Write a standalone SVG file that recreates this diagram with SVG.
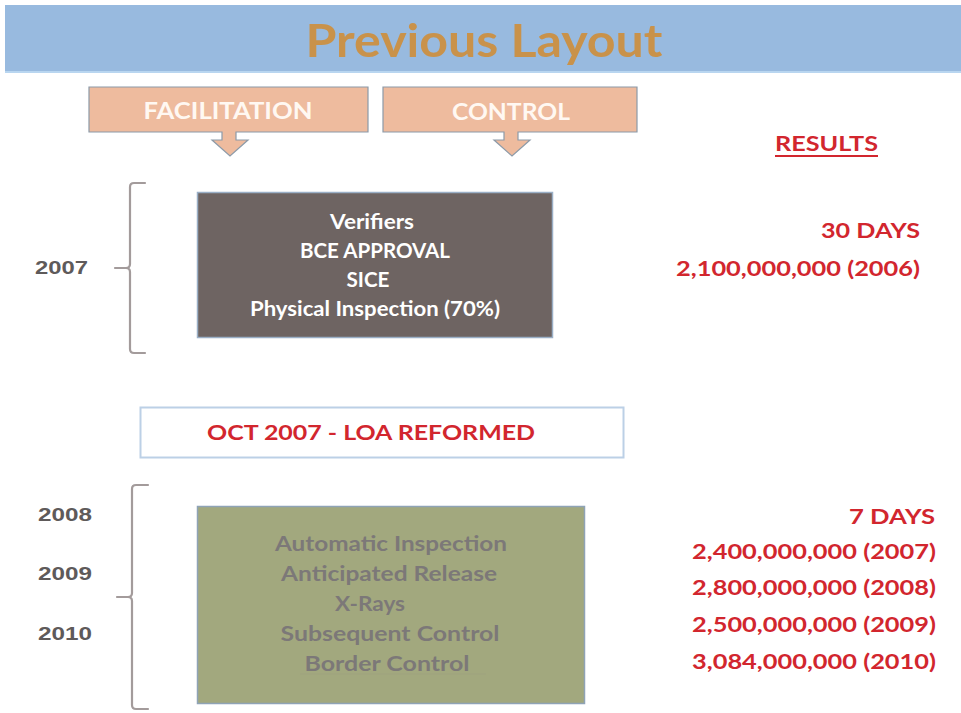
<svg xmlns="http://www.w3.org/2000/svg" width="961" height="713" viewBox="0 0 961 713">
  <style>
    text { font-family: Lato, "Open Sans", "Liberation Sans", sans-serif; font-weight: bold; }
    .title { font-size: 46px; fill: #C9924A; }
    .tab { fill: #EEBB9E; stroke: #8C9AA8; stroke-width: 1.2; }
    .tabtxt { font-size: 22px; fill: #FFF8F2; text-anchor: middle; }
    .brace { fill: none; stroke: #A39B9B; stroke-width: 2.2; stroke-linecap: round; stroke-linejoin: round; }
    .year { font-family: "Liberation Sans", Arial, sans-serif; font-size: 19px; fill: #5E5A5A; }
    .red { fill: #D2262E; font-size: 21px; }
    .end { text-anchor: end; }
    .mid { text-anchor: middle; }
    .wt { fill: #FFFFFF; font-size: 20px; text-anchor: middle; }
    .gt { fill: #7C7878; font-size: 21px; text-anchor: middle; }
  </style>

  <!-- header band -->
  <g id="header">
    <rect x="5" y="5" width="956" height="67" fill="#98BADF"/>
    <rect x="5" y="71" width="956" height="2" fill="#B9D6F0"/>
    <text class="title mid" x="484" y="57" textLength="357" lengthAdjust="spacingAndGlyphs">Previous Layout</text>
  </g>

  <!-- callout tabs -->
  <g id="facilitation">
    <path class="tab" d="M89,87 H368 V132 H236 V140 H248 L230,156 L212,140 H222 V132 H89 Z"/>
    <text class="tabtxt" x="228" y="119" textLength="169" lengthAdjust="spacingAndGlyphs">FACILITATION</text>
  </g>
  <g id="control">
    <path class="tab" d="M383,87 H637 V132 H518 V140 H530 L512,156 L494,140 H504 V132 H383 Z"/>
    <text class="tabtxt" x="511" y="120" textLength="118" lengthAdjust="spacingAndGlyphs">CONTROL</text>
  </g>

  <!-- braces -->
  <g id="connectors">
    <path class="brace" d="M145,183 H134 Q130,183 130,187 V264 Q130,268 126,268 H115 M126,268 Q130,268 130,272 V349 Q130,353 134,353 H145"/>
    <path class="brace" d="M148,485 H136 Q132,485 132,489 V593 Q132,597 128,597 H117 M128,597 Q132,597 132,601 V705 Q132,709 136,709 H148"/>
  </g>

  <!-- years -->
  <g id="years">
    <text class="year" x="35" y="274" textLength="53" lengthAdjust="spacingAndGlyphs">2007</text>
    <text class="year" x="38" y="521" textLength="54" lengthAdjust="spacingAndGlyphs">2008</text>
    <text class="year" x="38" y="580" textLength="54" lengthAdjust="spacingAndGlyphs">2009</text>
    <text class="year" x="38" y="640" textLength="54" lengthAdjust="spacingAndGlyphs">2010</text>
  </g>

  <!-- 2007 measures -->
  <g id="old-measures">
    <rect x="197.5" y="192.5" width="355" height="145" fill="#6E6462" stroke="#9AAFC6" stroke-width="1.5"/>
    <text class="wt" x="372" y="229" textLength="84" lengthAdjust="spacingAndGlyphs">Verifiers</text>
    <text class="wt" x="375" y="258" textLength="150" lengthAdjust="spacingAndGlyphs">BCE APPROVAL</text>
    <text class="wt" x="368" y="287" textLength="43" lengthAdjust="spacingAndGlyphs">SICE</text>
    <text class="wt" x="375" y="316" textLength="250" lengthAdjust="spacingAndGlyphs">Physical Inspection (70%)</text>
  </g>

  <!-- reform banner -->
  <g id="reform">
    <rect x="140.5" y="407.5" width="483" height="50" fill="#FFFFFF" stroke="#BCD0E6" stroke-width="2"/>
    <text class="red" x="371" y="440" text-anchor="middle" textLength="328" lengthAdjust="spacingAndGlyphs">OCT 2007 - LOA REFORMED</text>
  </g>

  <!-- 2008-2010 measures -->
  <g id="new-measures">
    <rect x="197.5" y="506.5" width="387" height="197" fill="#A2A87E" stroke="#8FA3B6" stroke-width="1.5"/>
    <text class="gt" x="391" y="551" textLength="232" lengthAdjust="spacingAndGlyphs">Automatic Inspection</text>
    <text class="gt" x="389" y="581" textLength="216" lengthAdjust="spacingAndGlyphs">Anticipated Release</text>
    <text class="gt" x="370" y="611" textLength="70" lengthAdjust="spacingAndGlyphs">X-Rays</text>
    <text class="gt" x="390" y="641" textLength="219" lengthAdjust="spacingAndGlyphs">Subsequent Control</text>
    <text class="gt" x="387" y="671" textLength="165" lengthAdjust="spacingAndGlyphs">Border Control</text>
    <line x1="300" y1="674" x2="486" y2="674" stroke="#9EA27E" stroke-width="1"/>
  </g>

  <!-- results -->
  <g id="results">
    <text class="red" x="775" y="151" textLength="103" lengthAdjust="spacingAndGlyphs">RESULTS</text>
    <rect x="775" y="155" width="103" height="2" fill="#D2262E"/>
    <text class="red end" x="920" y="238" textLength="99" lengthAdjust="spacingAndGlyphs">30 DAYS</text>
    <text class="red end" x="920" y="276" textLength="244" lengthAdjust="spacingAndGlyphs">2,100,000,000 (2006)</text>
    <text class="red end" x="935" y="524" textLength="86" lengthAdjust="spacingAndGlyphs">7 DAYS</text>
    <text class="red end" x="936" y="559" textLength="244" lengthAdjust="spacingAndGlyphs">2,400,000,000 (2007)</text>
    <text class="red end" x="936" y="595" textLength="244" lengthAdjust="spacingAndGlyphs">2,800,000,000 (2008)</text>
    <text class="red end" x="936" y="632" textLength="244" lengthAdjust="spacingAndGlyphs">2,500,000,000 (2009)</text>
    <text class="red end" x="936" y="669" textLength="244" lengthAdjust="spacingAndGlyphs">3,084,000,000 (2010)</text>
  </g>
</svg>
